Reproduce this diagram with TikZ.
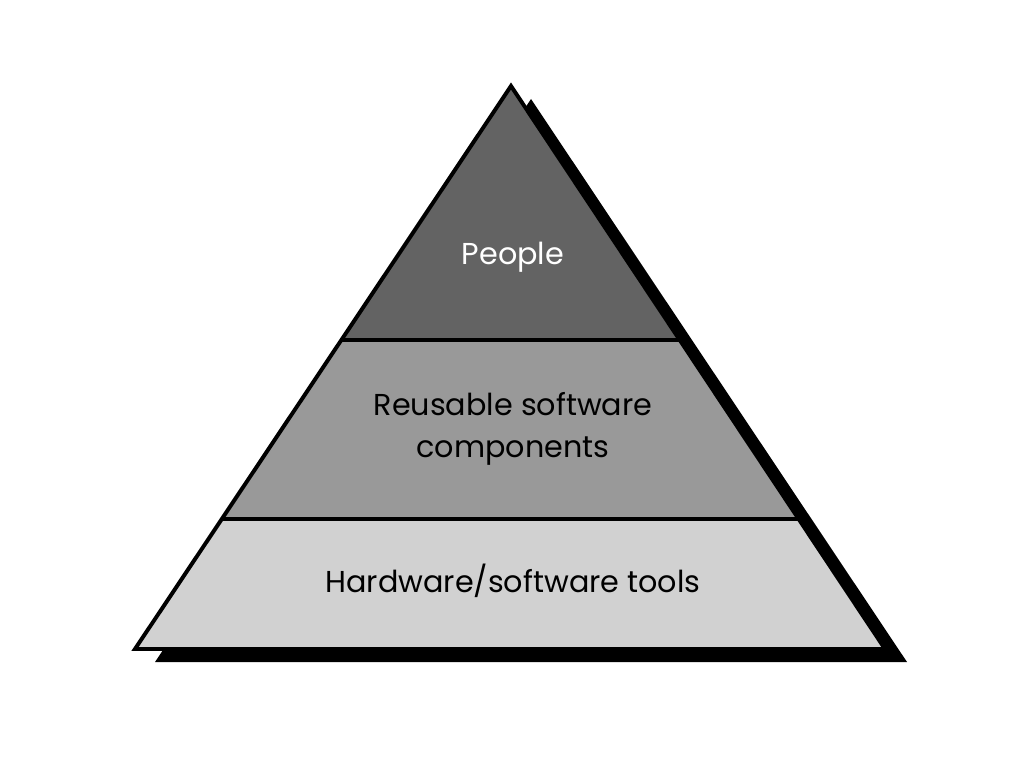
\documentclass[tikz,border=0pt]{standalone}
\usepackage{fontspec}
\setmainfont{Poppins}
\usepackage{tikz}

\begin{document}
\begin{tikzpicture}[x=0.025cm,y=-0.025cm, every node/.style={text=black, align=center, font=\fontsize{21.5}{30}\selectfont}]
\useasboundingbox (0,0) rectangle (1024,768);
\fill[white] (0,0) rectangle (1024,768);

% shadow
\fill[black] (531,99) -- (907,662) -- (155,662) -- cycle;

% bands
\begin{scope}
\clip (511,86) -- (885,649) -- (135,649) -- cycle;
\fill[fill=black!61] (0,80) rectangle (1024,340);
\fill[fill=black!40] (0,340) rectangle (1024,519);
\fill[fill=black!18] (0,519) rectangle (1024,660);
\end{scope}
\draw[line width=2.2pt] (341,340) -- (680,340);
\draw[line width=2.2pt] (221,519) -- (799,519);
\draw[line width=2.8pt, line join=miter] (511,86) -- (885,649) -- (135,649) -- cycle;

\node[text=white] (people) at (513,257) {People};
\node (reuse) at (513,429) {Reusable software\\components};
\node (tools) at (513,581) {Hardware/software tools};
\end{tikzpicture}
\end{document}
